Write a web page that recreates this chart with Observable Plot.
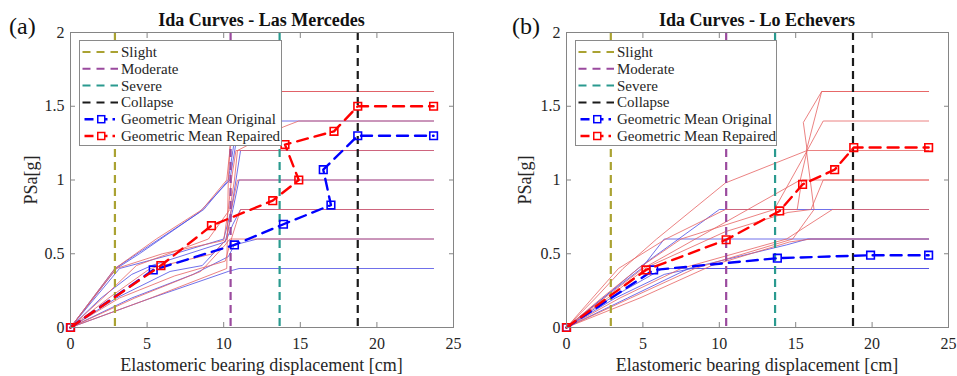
<!DOCTYPE html>
<html><head><meta charset="utf-8">
<script src="https://cdn.jsdelivr.net/npm/d3@7"></script>
<script src="https://cdn.jsdelivr.net/npm/@observablehq/plot@0.6"></script>
<style>
body{margin:0;background:#fff;}
#wrap{position:relative;width:957px;height:376px;overflow:hidden;background:#fff;}
#wrap svg{position:absolute;top:0;}
</style></head><body><div id="wrap"></div>
<script>
// ---------- shared labels / ticks ----------
const xTicks = [0, 5, 10, 15, 20, 25];
const yTicks = [0, 0.5, 1, 1.5, 2];
const yTickLabels = ["0", "0.5", "1", "1.5", "2"];
const thresholds = [2.9, 10.45, 13.65, 18.75];
const thresholdNames = ["Slight", "Moderate", "Severe", "Collapse"];
const meanNames = ["Geometric Mean Original", "Geometric Mean Repaired"];
const titles = ["Ida Curves - Las Mercedes", "Ida Curves - Lo Echevers"];
const panelTags = ["(a)", "(b)"];
const xLabel = "Elastomeric bearing displacement [cm]";
const yLabel = "PSa[g]";

// ---------- (a) Las Mercedes ----------
const lmOrigCurves = [
  [[0,0],[1.45,0.2],[2.9,0.4],[5.8,0.6],[8.7,0.8],[10.3,1.0],[10.6,1.2],[10.9,1.4],[23.7,1.4]],
  [[0,0],[1.6,0.2],[3.2,0.4],[6.8,0.5],[10.0,0.6],[10.5,0.8],[10.8,1.0],[11.1,1.2],[23.7,1.2]],
  [[0,0],[2.0,0.2],[4.0,0.36],[5.3,0.42],[10.1,0.58],[10.6,0.8],[11.0,1.0],[23.7,1.0]],
  [[0,0],[3.0,0.2],[6.5,0.38],[8.6,0.42],[10.2,0.6],[10.6,0.7],[11.1,0.8],[23.7,0.8]],
  [[0,0],[4.0,0.2],[8.0,0.36],[10.3,0.48],[10.7,0.56],[12.2,0.6],[23.7,0.6]],
  [[0,0],[5.0,0.19],[10.3,0.38],[11.0,0.4],[23.7,0.4]],
  [[0,0],[1.5,0.2],[3.0,0.4],[4.5,0.5],[8.4,0.78],[10.4,1.0],[10.8,1.25],[11.0,1.6],[23.7,1.6]]
];
const lmRepCurves = [
  [[0,0],[1.45,0.2],[2.9,0.4],[5.6,0.6],[8.6,0.8],[10.2,1.0],[10.4,1.2],[10.6,1.4],[10.8,1.6],[23.7,1.6]],
  [[0,0],[1.5,0.2],[3.0,0.4],[6.0,0.5],[10.0,0.59],[10.3,0.8],[10.5,1.0],[10.8,1.2],[23.7,1.2]],
  [[0,0],[2.1,0.2],[4.3,0.42],[9.0,0.6],[10.4,0.8],[10.7,1.0],[10.9,1.2],[13.9,1.36],[14.9,1.4],[23.7,1.4]],
  [[0,0],[2.5,0.2],[5.2,0.4],[9.3,0.5],[10.2,0.6],[10.5,0.8],[10.9,1.0],[23.7,1.0]],
  [[0,0],[3.2,0.2],[6.8,0.35],[10.1,0.45],[10.5,0.6],[10.8,0.7],[11.1,0.8],[23.7,0.8]],
  [[0,0],[4.2,0.2],[8.5,0.38],[10.1,0.56],[10.4,0.6],[23.7,0.6]],
  [[0,0],[5.0,0.19],[10.2,0.4],[10.3,1.0],[10.4,1.2],[10.6,1.5],[10.8,1.6],[23.7,1.6]]
];
const lmMeanOrigX = [0, 5.4, 10.7, 13.9, 17.0, 16.5, 18.75, 23.7];
const lmMeanOrigY = [0, 0.39, 0.56, 0.70, 0.83, 1.07, 1.30, 1.30];
const lmMeanRepX = [0, 5.9, 9.2, 13.2, 14.9, 14.0, 17.2, 18.75, 23.7];
const lmMeanRepY = [0, 0.42, 0.69, 0.86, 1.0, 1.24, 1.33, 1.5, 1.5];

// ---------- (b) Lo Echevers ----------
const leOrigCurves = [
  [[0,0],[2.4,0.2],[4.9,0.4],[6.4,0.6],[23.7,0.6]],
  [[0,0],[2.9,0.2],[5.8,0.37],[6.3,0.4],[23.7,0.4]],
  [[0,0],[2.4,0.2],[4.8,0.41],[10.0,0.8],[23.7,0.8]],
  [[0,0],[4.0,0.2],[8.0,0.4],[14.4,0.56],[15.8,0.6],[23.7,0.6]],
  [[0,0],[3.2,0.2],[6.4,0.36],[8.2,0.4],[23.7,0.4]]
];
const leRepCurves = [
  [[0,0],[1.9,0.2],[3.7,0.4],[5.9,0.6],[10.4,0.98],[15.75,1.2],[15.5,1.39],[16.7,1.6],[23.7,1.6]],
  [[0,0],[2.3,0.2],[4.7,0.4],[7.5,0.6],[13.6,0.8],[15.75,1.2],[16.8,1.4],[23.7,1.4]],
  [[0,0],[2.5,0.2],[5.0,0.4],[10.5,0.72],[15.3,1.0],[15.75,1.2],[23.7,1.2]],
  [[0,0],[2.7,0.2],[5.3,0.41],[10.4,0.65],[14.5,0.78],[16.0,0.8],[16.8,1.0],[23.7,1.0]],
  [[0,0],[3.5,0.2],[7.5,0.4],[14.4,0.6],[17.4,0.8],[23.7,0.8]],
  [[0,0],[4.2,0.2],[8.4,0.4],[14.8,0.6],[16.2,0.8],[15.7,1.2],[16.7,1.6],[23.7,1.6]],
  [[0,0],[1.7,0.2],[3.4,0.4],[6.5,0.6],[10.4,0.8],[15.1,0.8],[15.4,1.0],[17.7,1.0],[23.7,1.0]],
  [[0,0],[4.8,0.2],[9.5,0.42],[14.6,0.58],[16.0,0.6],[23.7,0.6]]
];
const leMeanOrigX = [0, 5.7, 13.8, 19.9, 23.7];
const leMeanOrigY = [0, 0.39, 0.47, 0.49, 0.49];
const leMeanRepX = [0, 5.2, 10.45, 13.95, 15.45, 17.55, 18.8, 23.7];
const leMeanRepY = [0, 0.39, 0.595, 0.79, 0.97, 1.07, 1.22, 1.22];

// ---------- styles ----------
const thrColors = ["#aaa232", "#9a4a9e", "#2a9a8f", "#1b1b1b"];
const origColor = "#0000ff", repColor = "#ff0000";
const thinOrig = "#4b4be4", thinRep = "#e66262";
const gray = "#858585", txt = "#262626";
const FONT = "'Liberation Serif','Times New Roman',serif";

const W = 957, H = 376, mT = 32, mB = 49;
const wrap = document.getElementById("wrap");

function flat(cs) { return cs.flatMap((c, i) => c.map(([x, y]) => ({x, y, id: i}))); }
function pts(xs, ys) { return xs.map((x, i) => ({x, y: ys[i]})); }

function panel(left, width, mL, mR, curvesO, curvesR, mOx, mOy, mRx, mRy) {
  const mo = pts(mOx, mOy), mr = pts(mRx, mRy);
  const svg = Plot.plot({
    width, height: H, marginLeft: mL, marginRight: mR, marginTop: mT, marginBottom: mB,
    x: {domain: [0, 25], label: null},
    y: {domain: [0, 2], label: null},
    style: {fontFamily: FONT, fontSize: "16px", color: txt, background: "transparent", overflow: "visible"},
    marks: [
      Plot.line(flat(curvesO), {x: "x", y: "y", z: "id", stroke: thinOrig, strokeWidth: 0.8}),
      Plot.line(flat(curvesR), {x: "x", y: "y", z: "id", stroke: thinRep, strokeWidth: 0.8}),
      ...thresholds.map((t, i) => Plot.ruleX([t], {stroke: thrColors[i], strokeWidth: 2.2, strokeDasharray: "8,5"})),
      Plot.line(mo, {x: "x", y: "y", stroke: origColor, strokeWidth: 2.4, strokeDasharray: "11,7"}),
      Plot.dot(mo, {x: "x", y: "y", symbol: "square", r: 4.3, stroke: origColor, strokeWidth: 1.6, fill: "none"}),
      Plot.line(mr, {x: "x", y: "y", stroke: repColor, strokeWidth: 2.4, strokeDasharray: "11,7"}),
      Plot.dot(mr, {x: "x", y: "y", symbol: "square", r: 4.3, stroke: repColor, strokeWidth: 1.6, fill: "none"}),
      Plot.frame({stroke: gray}),
      Plot.axisX({ticks: xTicks, anchor: "bottom", tickSize: 5, dy: -5, tickFormat: () => "", stroke: gray, label: null}),
      Plot.axisX({ticks: xTicks, anchor: "top", tickSize: 5, dy: 5, tickFormat: () => "", stroke: gray, label: null}),
      Plot.axisY({ticks: yTicks, anchor: "left", tickSize: 5, dx: 5, tickFormat: () => "", stroke: gray, label: null}),
      Plot.axisY({ticks: yTicks, anchor: "right", tickSize: 5, dx: -5, tickFormat: () => "", stroke: gray, label: null}),
      Plot.axisX({ticks: xTicks, anchor: "bottom", tickSize: 0, tickPadding: 10, fill: txt, label: null}),
      Plot.axisY({ticks: yTicks, anchor: "left", tickSize: 0, tickPadding: 6, fill: txt, label: null,
        tickFormat: d => yTickLabels[yTicks.indexOf(d)]})
    ]
  });
  svg.style.left = left + "px";
  wrap.appendChild(svg);
}

panel(0, 478, 70, 25, lmOrigCurves, lmRepCurves, lmMeanOrigX, lmMeanOrigY, lmMeanRepX, lmMeanRepY);
panel(478, 479, 88, 9, leOrigCurves, leRepCurves, leMeanOrigX, leMeanOrigY, leMeanRepX, leMeanRepY);

// ---------- overlay: titles, tags, axis titles, legends ----------
const ov = d3.create("svg").attr("width", W).attr("height", H)
  .style("left", "0px").style("pointer-events", "none").style("font-family", FONT);
const layout = [
  {cx: 261.5, tagX: 9, ylx: 37, legX: 79.5, legW: 202},
  {cx: 757, tagX: 512, ylx: 531, legX: 575.5, legW: 201}
];
layout.forEach((L, p) => {
  ov.append("text").attr("x", L.cx).attr("y", 26).attr("text-anchor", "middle")
    .attr("font-weight", "bold").attr("font-size", 18).attr("fill", "#111").text(titles[p]);
  ov.append("text").attr("x", L.tagX).attr("y", 34).attr("font-size", 24).attr("fill", "#111").text(panelTags[p]);
  ov.append("text").attr("x", L.cx).attr("y", 371).attr("text-anchor", "middle")
    .attr("font-size", 18).attr("fill", txt).text(xLabel);
  ov.append("text").attr("transform", `translate(${L.ylx},180) rotate(-90)`).attr("text-anchor", "middle")
    .attr("font-size", 18).attr("fill", txt).text(yLabel);
  // legend
  const g = ov.append("g");
  g.append("rect").attr("x", L.legX).attr("y", 40.5).attr("width", L.legW).attr("height", 105)
    .attr("fill", "#fff").attr("stroke", "#8a8a8a").attr("stroke-width", 1);
  const sx0 = L.legX + 3, sx1 = L.legX + 38.5, tx = L.legX + 41.5;
  const entries = [
    ...thresholdNames.map((n, i) => ({n, c: thrColors[i], w: 2, dash: "8,6", m: false})),
    {n: meanNames[0], c: origColor, w: 2.4, dash: "9,5", m: true},
    {n: meanNames[1], c: repColor, w: 2.4, dash: "9,5", m: true}
  ];
  entries.forEach((e, i) => {
    const base = 57 + i * 16.8, cy = base - 5;
    if (e.m) {
      g.append("line").attr("x1", sx0 + 2).attr("x2", sx1 - 3).attr("y1", cy).attr("y2", cy)
        .attr("stroke", e.c).attr("stroke-width", e.w).attr("stroke-dasharray", e.dash);
      const mx = (sx0 + sx1) / 2 + 1;
      g.append("rect").attr("x", mx - 3.5).attr("y", cy - 3.5).attr("width", 7).attr("height", 7)
        .attr("fill", "#fff").attr("stroke", e.c).attr("stroke-width", 1.5);
    } else {
      g.append("line").attr("x1", sx0).attr("x2", sx1).attr("y1", cy).attr("y2", cy)
        .attr("stroke", e.c).attr("stroke-width", e.w).attr("stroke-dasharray", e.dash);
    }
    g.append("text").attr("x", tx).attr("y", base).attr("font-size", 15).attr("fill", txt).text(e.n);
  });
});
wrap.appendChild(ov.node());
</script>
</body></html>
